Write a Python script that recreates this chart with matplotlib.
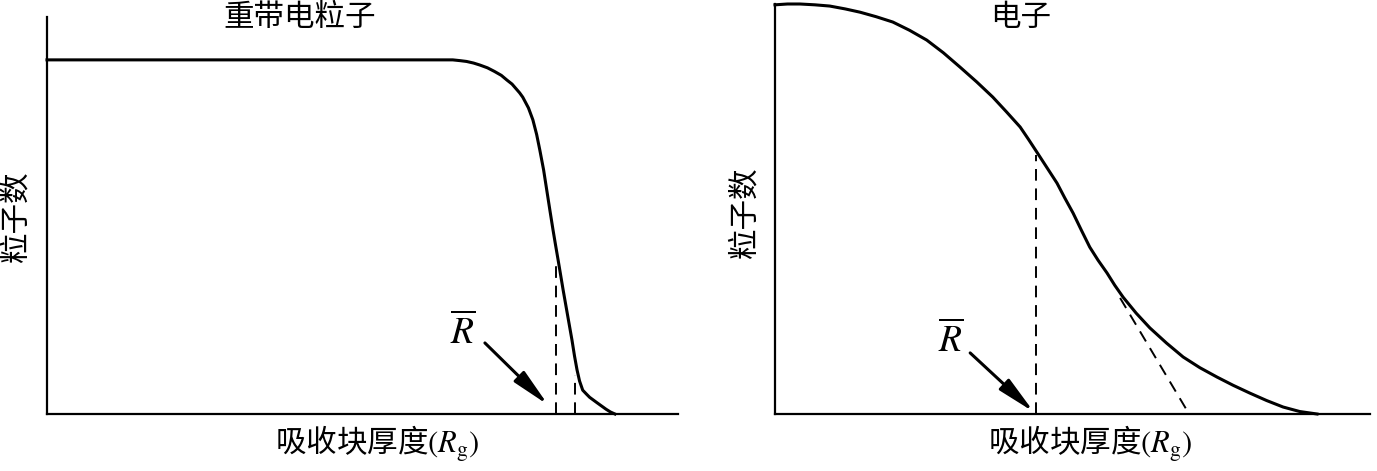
import matplotlib
matplotlib.use("Agg")
import matplotlib.pyplot as plt

plt.rcParams['font.family'] = ['Noto Sans CJK SC', 'DejaVu Sans']
plt.rcParams['mathtext.fontset'] = 'stix'

# heavy charged particles: thickness vs count (axis units 0-100)
heavy_x = [0, 64.3, 65.5, 66.5, 67.6, 68.6, 69.8, 70.9, 72.0, 72.9, 73.7, 74.3, 74.9,
           75.4, 76.3, 77.0, 77.6, 78.1, 78.7, 79.2, 79.7, 80.2, 80.6, 81.0, 81.4,
           81.8, 82.5, 83.2, 83.6, 84.0, 84.4, 84.9, 85.5, 86.0, 86.6, 87.2, 87.9,
           88.6, 89.3, 90.0]
heavy_y = [89.2, 89.2, 89.0, 88.8, 88.4, 87.9, 87.2, 86.3, 85.3, 84.1, 83.1, 82.0, 80.9,
           79.8, 77.1, 74.1, 70.4, 66.5, 61.5, 56.4, 51.3, 46.3, 42.5, 38.8, 35.0,
           31.2, 24.9, 18.6, 14.6, 11.1, 8.3, 6.0, 5.0, 4.2, 3.5, 2.8, 2.0,
           1.2, 0.5, 0]
heavy_dash_x = [80.7, 83.7]
heavy_dash_top = [38.3, 9.8]

# electrons
elec_x = [0, 2.1, 4.2, 6.7, 9.2, 11.8, 14.3, 17.0, 19.8, 22.6, 25.5, 28.3, 31.1, 33.9,
          36.6, 38.9, 41.2, 42.6, 44.0, 45.7, 47.4, 48.7, 50.1, 51.5, 52.9, 54.3,
          55.8, 57.1, 58.5, 60.7, 63.0, 65.8, 68.6, 71.4, 74.3, 77.0, 79.8, 82.6,
          85.4, 88.2, 91.1]
elec_y = [99.8, 100, 100, 99.8, 99.5, 98.8, 98.0, 96.9, 95.6, 93.6, 91.2, 88.1, 84.6, 81.0,
          77.3, 73.7, 70.0, 67.0, 63.9, 60.1, 56.3, 52.7, 49.0, 44.8, 40.7, 37.5,
          34.4, 31.4, 28.5, 24.6, 21.0, 17.3, 13.9, 11.3, 9.0, 7.0, 5.1, 3.3,
          1.7, 0.6, 0]
elec_dash_x = 43.9
elec_dash_top = 63.2
tangent_x = [58.0, 69.6]
tangent_y = [28.3, 0]

fig = plt.figure(figsize=(13.77, 4.71), dpi=100)
ax1 = fig.add_axes([47 / 1377, 57 / 471, 631 / 1377, 397 / 471])
ax2 = fig.add_axes([775 / 1377, 57 / 471, 595 / 1377, 410 / 471])

arrow = dict(arrowstyle='-|>,head_length=1.15,head_width=0.22', color='black',
             lw=2.2, mutation_scale=20, shrinkA=0, shrinkB=0)

for ax in (ax1, ax2):
    ax.set_xlim(0, 100)
    ax.set_ylim(0, 100)
    ax.spines['top'].set_visible(False)
    ax.spines['right'].set_visible(False)
    ax.spines['left'].set_linewidth(1.6)
    ax.spines['bottom'].set_linewidth(1.6)
    ax.set_xticks([])
    ax.set_yticks([])

ax1.plot(heavy_x, heavy_y, color='black', lw=2.2, clip_on=False, solid_joinstyle='round')
for xd, top in zip(heavy_dash_x, heavy_dash_top):
    ax1.plot([xd, xd], [0, top], color='black', lw=1.4, dashes=(6, 4))
ax1.annotate('', xy=(79.4, 2.3), xytext=(69.4, 17.9), arrowprops=arrow)
ax1.text(65.9, 20.4, r'$\overline{R}$', fontsize=27, ha='center', va='center')

ax2.plot(elec_x, elec_y, color='black', lw=2.2, clip_on=False, solid_joinstyle='round')
ax2.plot([elec_dash_x, elec_dash_x], [0, elec_dash_top], color='black', lw=1.4, dashes=(6, 4))
ax2.plot(tangent_x, tangent_y, color='black', lw=1.4, dashes=(6, 4))
ax2.annotate('', xy=(43.5, 0.5), xytext=(32.8, 14.9), arrowprops=arrow)
ax2.text(29.6, 17.8, r'$\overline{R}$', fontsize=27, ha='center', va='center')

fig.text(300 / 1377, 1 - 17.5 / 471, '重带电粒子', fontsize=22, ha='center', va='center')
fig.text(1021 / 1377, 1 - 17 / 471, '电子', fontsize=22, ha='center', va='center')
fig.text(16 / 1377, 1 - 216 / 471, '粒子数', fontsize=22, ha='center', va='center', rotation=90)
fig.text(745 / 1377, 1 - 212 / 471, '粒子数', fontsize=22, ha='center', va='center', rotation=90)
fig.text(377 / 1377, 1 - 444 / 471, r'吸收块厚度$(R_{\mathrm{g}})$', fontsize=22,
         ha='center', va='center')
fig.text(1090 / 1377, 1 - 444 / 471, r'吸收块厚度$(R_{\mathrm{g}})$', fontsize=22,
         ha='center', va='center')

fig.savefig('out.png', dpi=100)
